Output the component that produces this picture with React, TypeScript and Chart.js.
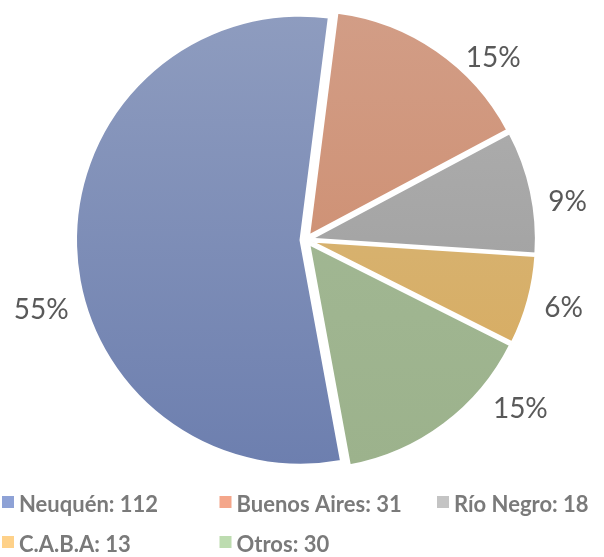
import React, { useEffect, useRef } from "react";
import { Chart, registerables } from "chart.js";

Chart.register(...registerables);

const categories = ["Neuquén", "Buenos Aires", "Río Negro", "C.A.B.A", "Otros"];
const values = [112, 31, 18, 13, 30];
const topColors = ["#8e9cbf", "#d29d86", "#b1b1b1", "#d6ba83", "#a5bb98"];
const bottomColors = ["#6d7faf", "#cc8766", "#999999", "#d8a95a", "#9cb28c"];
const legendColors = ["#8ea2d6", "#f4a68a", "#c4c4c4", "#fed189", "#bddcb0"];
// label placement tweaks (degrees shift from slice mid-angle, extra radial distance)
const labelAngleShift = [-13, 11, 3.7, -0.7, -15];
const labelExtra = [49, 37.5, 40, 41.5, 48];
const EXPLODE = 5.5;

const explodePlugin = {
  id: "explode",
  afterDatasetUpdate(chart: any) {
    const meta = chart.getDatasetMeta(0);
    meta.data.forEach((arc: any) => {
      const mid = (arc.startAngle + arc.endAngle) / 2;
      arc.x += Math.cos(mid) * EXPLODE;
      arc.y += Math.sin(mid) * EXPLODE;
    });
  },
};

const labelsPlugin = {
  id: "pctLabels",
  afterDatasetsDraw(chart: any) {
    const { ctx, chartArea } = chart;
    const cx = (chartArea.left + chartArea.right) / 2;
    const cy = (chartArea.top + chartArea.bottom) / 2;
    const meta = chart.getDatasetMeta(0);
    const data = chart.data.datasets[0].data as number[];
    const total = data.reduce((a, b) => a + b, 0);
    ctx.save();
    ctx.font = "28px Lato";
    ctx.fillStyle = "#595959";
    ctx.textAlign = "center";
    ctx.textBaseline = "middle";
    meta.data.forEach((arc: any, i: number) => {
      const { startAngle, endAngle, outerRadius } = arc;
      const mid = (startAngle + endAngle) / 2 + (labelAngleShift[i] * Math.PI) / 180;
      const r = outerRadius + labelExtra[i];
      const tx = cx + Math.cos(mid) * r;
      const ty = cy + Math.sin(mid) * r;
      const pct = Math.round((data[i] / total) * 100) + "%";
      ctx.fillText(pct, tx, ty + 1);
    });
    ctx.restore();
  },
};

const legendPlugin = {
  id: "gridLegend",
  afterDraw(chart: any) {
    const { ctx } = chart;
    ctx.save();
    ctx.font = "bold 22px Lato";
    ctx.textAlign = "left";
    ctx.textBaseline = "alphabetic";
    categories.forEach((c, i) => {
      const col = i % 3;
      const row = Math.floor(i / 3);
      const x = 2 + col * 217.5;
      const base = 512 + row * 40;
      ctx.fillStyle = legendColors[i];
      ctx.fillRect(x, base - 16, 12, 12);
      ctx.fillStyle = "#7a7a7a";
      ctx.fillText(`${c}: ${values[i]}`, x + 17, base);
    });
    ctx.restore();
  },
};

export default function App() {
  const ref = useRef<HTMLCanvasElement>(null);
  useEffect(() => {
    if (!ref.current) return;
    const chart = new Chart(ref.current, {
      type: "pie",
      data: {
        labels: categories,
        datasets: [
          {
            data: values,
            backgroundColor: (ctx: any) => {
              const c = ctx.chart;
              const area = c.chartArea;
              const i = ctx.dataIndex;
              if (!area || i === undefined) return topColors[i ?? 0];
              const g = c.ctx.createLinearGradient(0, area.top + 15, 0, area.bottom - 15);
              g.addColorStop(0, topColors[i]);
              g.addColorStop(1, bottomColors[i]);
              return g;
            },
            borderColor: "#ffffff",
            borderWidth: 2,
            offset: 0,
            hoverOffset: 0,
          },
        ],
      },
      options: {
        animation: false,
        responsive: false,
        rotation: 169.6,
        radius: 224.5,
        layout: { padding: { left: 8, right: 0, top: 0, bottom: 77 } },
        plugins: {
          legend: { display: false },
          tooltip: { enabled: false },
        },
      },
      plugins: [explodePlugin, labelsPlugin, legendPlugin],
    });
    return () => chart.destroy();
  }, []);
  return (
    <div style={{ position: "absolute", left: 0, top: 0, width: 604, height: 557, background: "#fff" }}>
      <canvas ref={ref} width={604} height={557} style={{ display: "block" }} />
    </div>
  );
}
